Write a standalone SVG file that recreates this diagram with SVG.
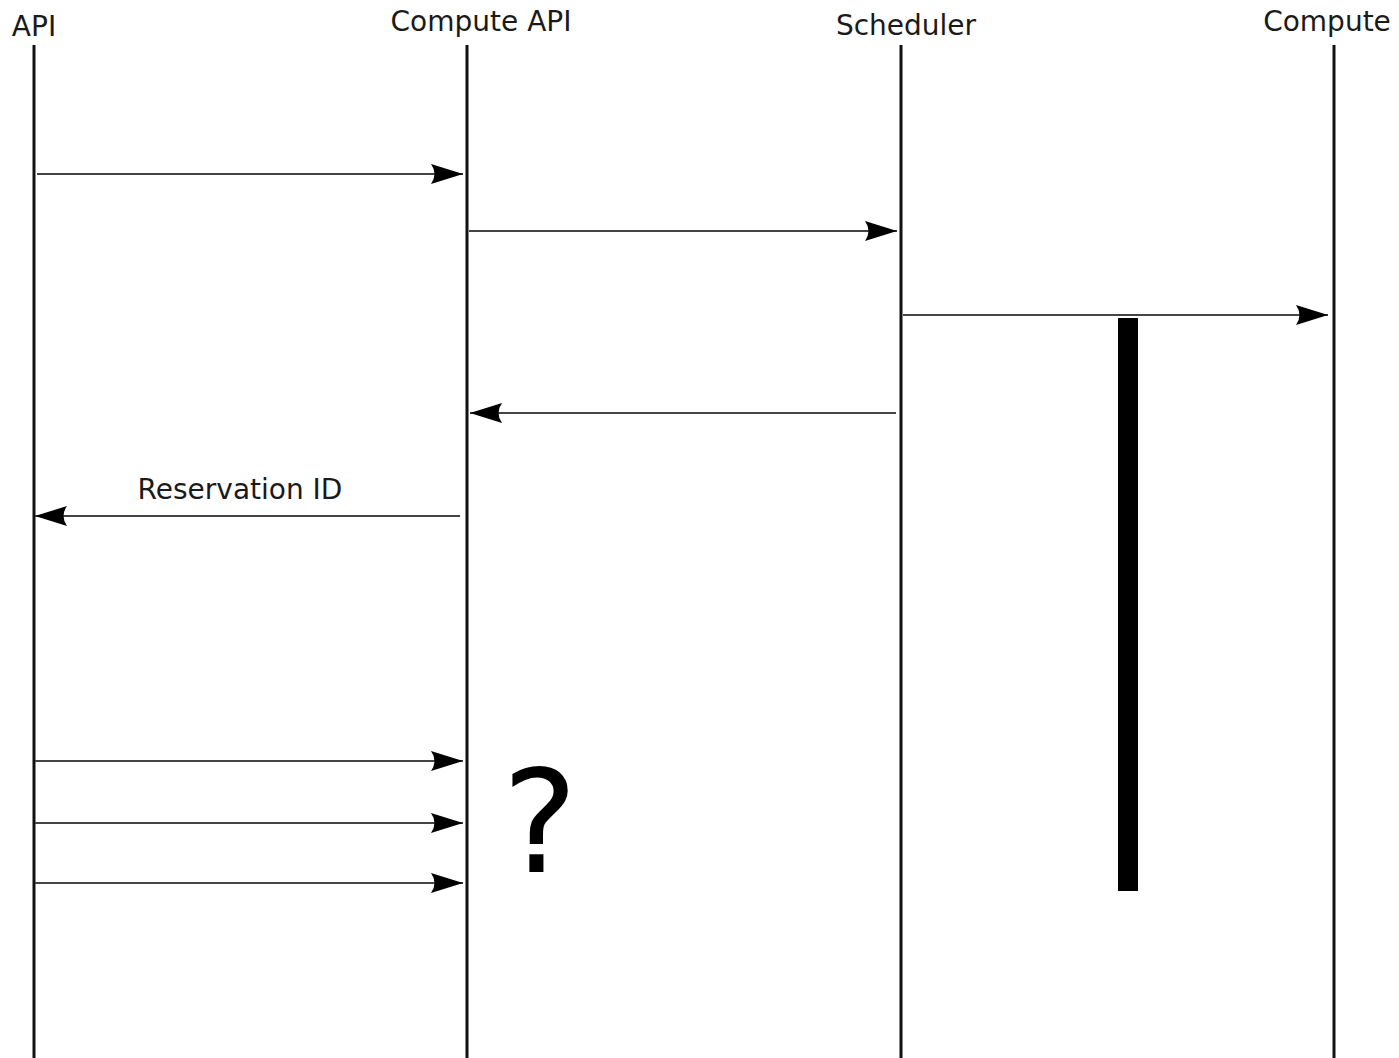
<svg xmlns="http://www.w3.org/2000/svg" width="1399" height="1058" viewBox="0 0 1399 1058">
<style>
.lbl{font-family:"DejaVu Sans","Liberation Sans",sans-serif;fill:#1a1a1a}
.life{stroke:#111;stroke-width:3;fill:none}
.msg{stroke:#444;stroke-width:2;fill:none;marker-end:url(#ah)}
</style>
<defs>
<marker id="ah" markerUnits="userSpaceOnUse" markerWidth="40" markerHeight="24" refX="34" refY="12" orient="auto">
<path d="M34,12 L2,2 Q9,12 2,22 Z" fill="#000"/>
</marker>
</defs>
<rect width="1399" height="1058" fill="#fff"/>
<g id="api">
<text class="lbl" x="34" y="36" font-size="28" text-anchor="middle">API</text>
<line class="life" x1="34" y1="45" x2="34" y2="1058"/>
</g>
<g id="compute-api">
<text class="lbl" x="481" y="31" font-size="28" text-anchor="middle">Compute API</text>
<line class="life" x1="467" y1="45" x2="467" y2="1058"/>
</g>
<g id="scheduler">
<text class="lbl" x="906" y="35" font-size="28" text-anchor="middle">Scheduler</text>
<line class="life" x1="901" y1="45" x2="901" y2="1058"/>
</g>
<g id="compute">
<text class="lbl" x="1327" y="31" font-size="28" text-anchor="middle">Compute</text>
<line class="life" x1="1334" y1="45" x2="1334" y2="1058"/>
</g>
<g id="activity">
<rect x="1118" y="318" width="20" height="573" fill="#000"/>
</g>
<g id="question">
<text class="lbl" x="540" y="872" font-size="142" text-anchor="middle" style="fill:#000">?</text>
</g>
<g id="connectors">
<line class="msg" x1="37" y1="174" x2="463" y2="174"/>
<line class="msg" x1="469" y1="231" x2="897" y2="231"/>
<line class="msg" x1="903" y1="315" x2="1328" y2="315"/>
<line class="msg" x1="896" y1="413" x2="470" y2="413"/>
<line class="msg" x1="460" y1="516" x2="35" y2="516"/>
<text class="lbl" x="240" y="499" font-size="28" text-anchor="middle">Reservation ID</text>
<line class="msg" x1="35" y1="761" x2="463" y2="761"/>
<line class="msg" x1="35" y1="823" x2="463" y2="823"/>
<line class="msg" x1="35" y1="883" x2="463" y2="883"/>
</g>
</svg>
